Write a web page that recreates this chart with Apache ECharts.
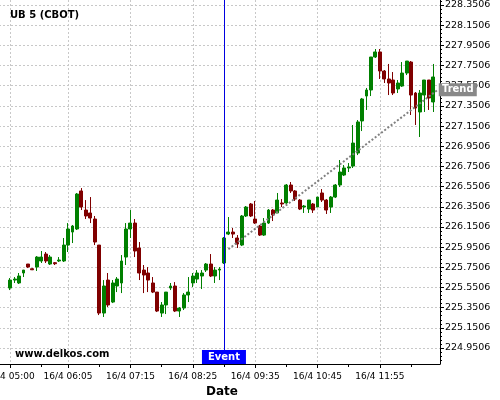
<!DOCTYPE html>
<html><head><meta charset="utf-8">
<script src="https://cdn.jsdelivr.net/npm/echarts@6/dist/echarts.min.js"></script>
<style>html,body{margin:0;padding:0;background:#fff}#c{width:500px;height:400px}</style>
</head><body><div id="c"></div>
<script>
// ---- data ----
const chartTitle = 'UB 5 (CBOT)';
const watermark = 'www.delkos.com';
const xAxisName = 'Date';
const datePrefix = '16/4 ';
const firstCandleTime = '16/4 05:00';
const xLabelTimes = ['16/4 05:00','16/4 06:05','16/4 07:15','16/4 08:25','16/4 09:35','16/4 10:45','16/4 11:55'];
const xMinorTickTimes = ['16/4 05:35','16/4 06:40','16/4 07:50','16/4 09:00','16/4 10:10','16/4 11:20','16/4 12:30'];
const yTickLabels = [224.9506,225.1506,225.3506,225.5506,225.7506,225.9506,226.1506,226.3506,226.5506,226.7506,226.9506,227.1506,227.3506,227.5506,227.7506,227.9506,228.1506,228.3506];
const yMin = 224.792, yMax = 228.400;

const openP = [225.545,225.624,225.595,225.694,225.783,225.736,225.753,225.813,225.882,225.783,
 225.796,225.813,225.813,225.971,226.100,226.130,226.507,226.318,226.289,226.229,
 225.971,225.297,225.624,225.406,225.565,225.595,225.852,226.130,226.189,225.942,
 225.723,225.694,225.595,225.505,225.297,225.377,225.545,225.565,225.317,225.347,
 225.476,225.595,225.634,225.664,225.723,225.783,225.664,225.723,225.793,226.080,
 226.100,226.041,225.971,226.259,226.378,226.229,226.160,226.070,226.189,226.318,
 226.289,226.388,226.388,226.566,226.507,226.417,226.348,226.328,226.378,226.348,
 226.487,226.417,226.348,226.447,226.566,226.665,226.735,226.754,226.883,227.201,
 227.448,227.508,227.835,227.885,227.696,227.617,227.607,227.518,227.547,227.676,
 227.785,227.478,227.290,227.458,227.607,227.389];
const closeP = [225.624,225.634,225.664,225.723,225.753,225.726,225.852,225.852,225.813,225.852,
 225.786,225.823,225.971,226.130,226.160,226.477,226.348,226.259,226.239,226.001,
 225.297,225.565,225.377,225.595,225.634,225.813,226.130,226.189,225.912,225.694,
 225.674,225.624,225.505,225.317,225.377,225.505,225.565,225.317,225.347,225.476,
 225.505,225.664,225.694,225.694,225.783,225.664,225.723,225.733,226.041,226.100,
 226.080,225.981,226.259,226.348,226.259,226.189,226.070,226.189,226.318,226.269,
 226.417,226.378,226.566,226.507,226.427,226.328,226.358,226.417,226.318,226.447,
 226.417,226.318,226.447,226.566,226.695,226.735,226.745,226.982,227.191,227.419,
 227.508,227.835,227.885,227.696,227.617,227.577,227.478,227.577,227.676,227.795,
 227.458,227.329,227.478,227.607,227.429,227.637];
const lowP = [225.525,225.595,225.585,225.654,225.743,225.723,225.714,225.793,225.793,225.773,
 225.773,225.803,225.803,225.902,225.991,226.120,226.318,226.229,226.189,225.971,
 225.277,225.258,225.357,225.396,225.505,225.495,225.773,226.041,225.852,225.624,
 225.495,225.505,225.495,225.307,225.258,225.287,225.525,225.307,225.258,225.327,
 225.406,225.555,225.595,225.535,225.704,225.654,225.595,225.624,225.783,226.070,
 226.041,225.942,225.961,226.249,226.249,226.180,226.061,226.061,226.180,226.209,
 226.289,226.348,226.378,226.487,226.408,226.318,226.289,226.289,226.289,226.348,
 226.398,226.279,226.289,226.437,226.546,226.655,226.695,226.735,226.863,227.101,
 227.310,227.448,227.825,227.617,227.577,227.458,227.458,227.478,227.538,227.656,
 227.260,227.161,227.042,227.290,227.310,227.290];
const highP = [225.644,225.654,225.694,225.723,225.783,225.743,225.862,225.912,225.902,225.872,
 225.803,225.852,226.041,226.189,226.170,226.487,226.536,226.417,226.447,226.259,
 225.971,225.624,225.694,225.624,225.654,225.872,226.189,226.318,226.229,226.001,
 225.773,225.753,225.654,225.505,225.406,225.505,225.595,225.604,225.357,225.495,
 225.654,225.694,225.723,225.723,225.793,225.882,225.753,225.753,226.051,226.249,
 226.140,226.070,226.269,226.358,226.388,226.408,226.170,226.239,226.328,226.328,
 226.487,226.427,226.576,226.596,226.516,226.427,226.368,226.417,226.388,226.447,
 226.526,226.427,226.457,226.576,226.814,226.764,226.784,227.161,227.210,227.429,
 227.528,227.835,227.914,227.914,227.706,227.766,227.686,227.607,227.785,227.795,
 227.795,227.488,227.508,227.607,227.607,227.766];

const eventTime = '16/4 09:00';
const trendTimes = ['16/4 09:05','16/4 13:00'];
const trendValues = [225.93, 227.51];

// ---- build ----
function pad(n){return (n<10?'0':'')+n;}
const categories = [];
for (let m = 4*60+50; m <= 13*60; m += 5) categories.push(datePrefix + pad(Math.floor(m/60)) + ':' + pad(m%60));
const idx = (t) => categories.indexOf(t);
const firstIdx = idx(firstCandleTime);
const candleData = openP.map((o,k)=>[firstIdx+k, o, closeP[k], lowP[k], highP[k]]);
const majorIdx = xLabelTimes.map(idx);
const minorIdx = xMinorTickTimes.map(idx);
const trendData = trendTimes.map((t,j)=>[idx(t), trendValues[j]]);
const eventIdx = idx(eventTime);
const minorYTicks = [];
for (let v = yTickLabels[0]-0.16; v <= yMax; v += 0.04) if (v >= yMin) minorYTicks.push(+v.toFixed(4));
// slot i is centred on value i
const xMin = -0.5, xMax = categories.length - 0.5;

const FONT = 'DejaVu Sans';
const gridLine = {color:'#c8c8c8', type:[2,2], width:1};
const chart = echarts.init(document.getElementById('c'), null, {renderer:'canvas', width:500, height:400});
chart.setOption({
  animation:false,
  backgroundColor:'#fff',
  textStyle:{fontFamily:FONT},
  title:{text:chartTitle, left:10, top:10, padding:0, textStyle:{fontSize:10, fontWeight:'bold', color:'#000', fontFamily:FONT}},
  graphic:[{type:'text', left:15, top:349, z:100, style:{text:watermark, font:'bold 10px "DejaVu Sans"', fill:'#000'}}],
  grid:{left:-1, right:60, top:0, bottom:36, containLabel:false, outerBoundsMode:'none'},
  xAxis:[{type:'value', min:xMin, max:xMax, position:'bottom',
    name:xAxisName, nameLocation:'middle', nameGap:22,
    nameTextStyle:{fontSize:12, fontWeight:'bold', color:'#000', fontFamily:FONT, padding:[0,0,0,5]},
    axisLine:{show:true, onZero:false, lineStyle:{color:'#000', width:1}},
    axisTick:{show:true, customValues:majorIdx, length:4, lineStyle:{color:'#000'}},
    axisLabel:{show:true, customValues:majorIdx, formatter:(v)=>categories[Math.round(v)], fontSize:9, color:'#000', margin:8, fontFamily:FONT},
    splitLine:{show:true, lineStyle:gridLine}
  },{type:'value', min:xMin, max:xMax, position:'bottom',
    axisLine:{show:false, onZero:false}, axisLabel:{show:false}, splitLine:{show:false},
    axisTick:{show:true, customValues:minorIdx, length:3, lineStyle:{color:'#000'}}
  }],
  yAxis:[{type:'value', position:'right', min:yMin, max:yMax, scale:true,
    axisLine:{show:true, onZero:false, lineStyle:{color:'#000', width:1}},
    axisTick:{show:true, customValues:yTickLabels, length:4, lineStyle:{color:'#000'}},
    axisLabel:{show:true, customValues:yTickLabels, formatter:(v)=>v.toFixed(4), fontSize:9.5, color:'#000', margin:5, fontFamily:FONT},
    splitLine:{show:true, lineStyle:gridLine}
  },{type:'value', position:'right', min:yMin, max:yMax, scale:true,
    axisLine:{show:false, onZero:false}, axisLabel:{show:false}, splitLine:{show:false},
    axisTick:{show:true, customValues:minorYTicks, length:2, lineStyle:{color:'#000'}}
  }],
  series:[{
    type:'candlestick', data:candleData, encode:{x:0, y:[1,2,3,4]}, barWidth:3.4, z:2,
    itemStyle:{color:'#008000', color0:'#800000', borderColor:'#008000', borderColor0:'#800000', borderWidth:1},
    markLine:{silent:true, symbol:['none','none'], label:{show:false}, animation:false,
      lineStyle:{color:'#0000e0', type:'solid', width:1}, data:[{xAxis:eventIdx}]},
    markPoint:{silent:true, animation:false, data:[{coord:[eventIdx, yMin], symbol:'rect', symbolSize:[44,14], symbolOffset:[0,-7],
      itemStyle:{color:'#0000ff'}, label:{show:true, position:'inside', formatter:'Event', color:'#fff', fontWeight:'bold', fontSize:10, fontFamily:FONT}}]}
  },{
    type:'line', data:trendData, symbol:'none', z:3, silent:true,
    lineStyle:{color:'#808080', width:2, type:[2,2]},
    markPoint:{silent:true, animation:false, data:[{coord:trendData[1], symbol:'rect', symbolSize:[38,13], symbolOffset:[20,0],
      itemStyle:{color:'#888888'}, label:{show:true, position:'inside', formatter:'Trend', color:'#fff', fontWeight:'bold', fontSize:10, fontFamily:FONT}}]}
  }]
});
</script></body></html>
